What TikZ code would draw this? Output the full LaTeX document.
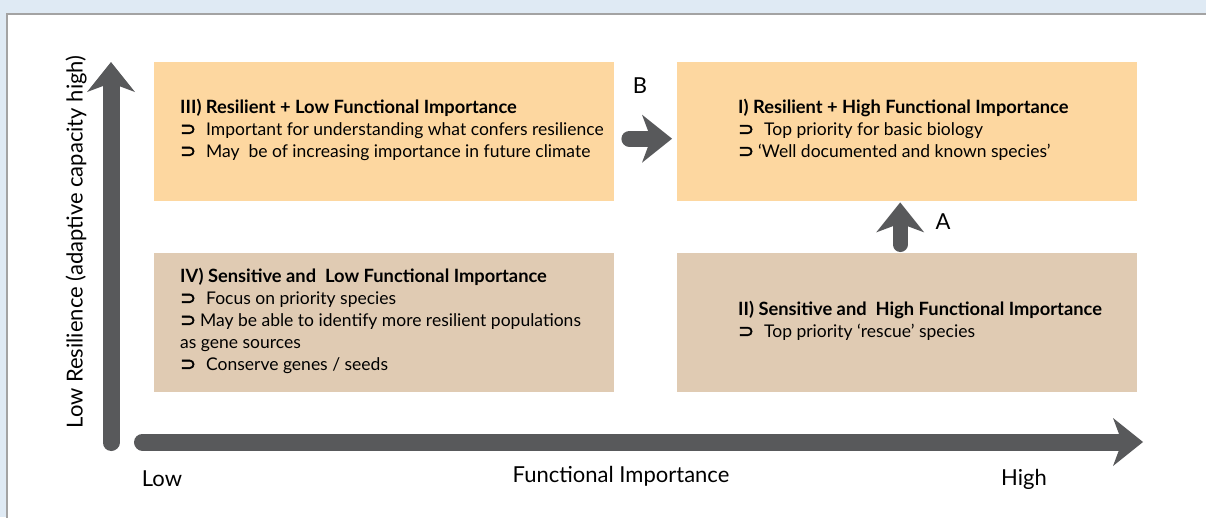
\documentclass[tikz,border=0pt]{standalone}
\usepackage{fontspec}
\setmainfont{Lato}
\newfontfamily\symfont[FakeBold=2.5]{DejaVu Sans}
\usetikzlibrary{arrows.meta,positioning}

\definecolor{bgblue}{HTML}{DFEAF4}
\definecolor{framegray}{HTML}{A3A3A3}
\definecolor{arrowgray}{HTML}{58595B}
\definecolor{peach}{HTML}{FDD7A0}
\definecolor{tan}{HTML}{E0CBB3}

\newcommand{\pnt}{{\symfont\fontsize{19}{22}\selectfont ⊃}}
\newcommand{\qtitle}[1]{{\fontsize{18.3}{22}\selectfont\bfseries #1}}

\tikzset{
  quad/.style={minimum width=460pt, minimum height=139pt, inner sep=0pt, anchor=north west},
  quadtext/.style={anchor=west, align=left, inner sep=0pt, font=\fontsize{17.5}{22}\selectfont},
  bigarrow/.style={arrowgray, -{Stealth[length=30pt,width=48pt,inset=9pt,line width=0pt]}},
  axislabel/.style={font=\fontsize{22}{26}\selectfont},
}

\begin{document}
\begin{tikzpicture}[x=1pt,y=-1pt]
        \useasboundingbox (0,0) rectangle (1206,517);
        % Frame
        \fill[bgblue] (0,0) rectangle (1206,517);
        \fill[white] (7,14) rectangle (1220,530);
        \draw[framegray, line width=1.2pt] (7,530) |- (1220,14);

        % Quadrants
        \node[quad, fill=peach] (q3) at (154,62) {};
        \node[quad, fill=peach] (q1) at (677,62) {};
        \node[quad, fill=tan] (q4) at (154,253) {};
        \node[quad, fill=tan] (q2) at (677,253) {};

        % Quadrant texts
        \node[quadtext, right=26pt of q3.west, yshift=2pt] (t3) {
            \qtitle{III) Resilient + Low Functional Importance}\\
            \pnt\hspace{10pt}Important for understanding what confers resilience\\
            \pnt\hspace{10pt}May\ \ be of increasing importance in future climate
        };
        \node[quadtext, right=61pt of q1.west, yshift=2pt] (t1) {
            \qtitle{I) Resilient + High Functional Importance}\\
            \pnt\hspace{10pt}Top priority for basic biology\\
            \pnt\hspace{4pt}‘Well documented and known species’
        };
        \node[quadtext, right=26pt of q4.west, yshift=2pt] (t4) {
            \qtitle{IV) Sensitive and\ \ Low Functional Importance}\\
            \pnt\hspace{10pt}Focus on priority species\\
            \pnt\hspace{4pt}May be able to identify more resilient populations\\
            as gene sources\\
            \pnt\hspace{10pt}Conserve genes / seeds
        };
        \node[quadtext, right=61pt of q2.west, yshift=2pt] (t2) {
            \qtitle{II) Sensitive and\ \ High Functional Importance}\\
            \pnt\hspace{10pt}Top priority ‘rescue’ species
        };

        % Axes
        \coordinate (origin) at (111,442);
        \coordinate (ytop) at (111,62);
        \coordinate (xstart) at (142.5,442);
        \coordinate (xend) at (1143,442);
        \draw[bigarrow, line width=17pt, line cap=round] ([yshift=-0.5pt]origin) -- (ytop);
        \draw[bigarrow, line width=17pt, line cap=round] (xstart) -- (xend);

        % Axis labels
        \node[axislabel, rotate=90] (ylab) at (76,242) {Low Resilience (adaptive capacity high)};
        \node[axislabel] (xlab) at (621,476) {Functional Importance};
        \node[axislabel] (low) at (162,479) {Low};
        \node[axislabel] (high) at (1024,479) {High};

        % Moves between quadrants
        \draw[bigarrow, line width=16pt, line cap=round, shorten <=15pt, shorten >=5pt]
            ([yshift=-7pt]q3.east) -- ([yshift=-7pt]q1.west);
        \node[axislabel] (labB) at (640,86) {B};
        \draw[bigarrow, line width=15pt, line cap=round, shorten <=8.5pt, shorten >=1pt]
            ([xshift=-7pt]q2.north) -- ([xshift=-7pt]q1.south);
        \node[axislabel] (labA) at (943,222) {A};
\end{tikzpicture}
\end{document}
